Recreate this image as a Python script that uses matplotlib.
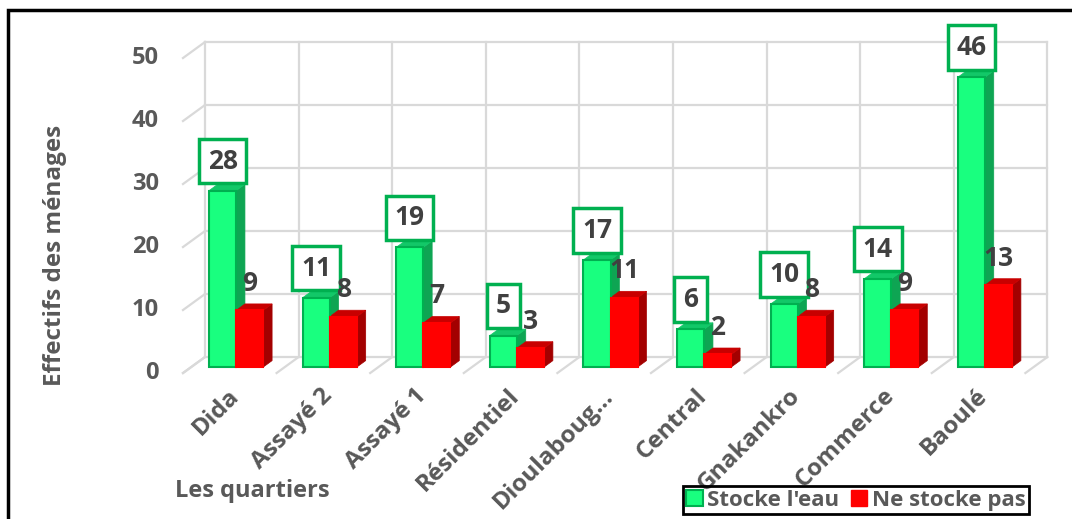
import numpy as np
import matplotlib
matplotlib.use("Agg")
import matplotlib.pyplot as plt
from matplotlib.patches import Polygon, Rectangle, Patch

plt.rcParams['font.family'] = ['Open Sans', 'DejaVu Sans']
plt.rcParams['font.weight'] = 'bold'

# données
quartiers = ["Dida", "Assayé 2", "Assayé 1", "Résidentiel", "Dioulaboug…",
             "Central", "Gnakankro", "Commerce", "Baoulé"]
stocke = [28, 11, 19, 5, 17, 6, 10, 14, 46]
ne_stocke = [9, 8, 7, 3, 11, 2, 8, 9, 13]
yticks = [0, 10, 20, 30, 40, 50]

gris = '#595959'
vert, vert_bord, vert_cote, vert_haut = '#19FF7F', '#00B050', '#0EA553', '#12C868'
rouge, rouge_cote, rouge_haut = '#FF0000', '#A30000', '#C80000'

fig = plt.figure(figsize=(10.72, 5.19), dpi=100)
ax = fig.add_axes([0, 0, 1, 1])
ax.set_xlim(-1.955, 9.498)
ax.set_ylim(-23.17, 59.21)
ax.axis('off')

# profondeur (pseudo 3D)
DX, DY = 0.235, 2.54
OX, OY = 0.088, 0.95          # plan avant des barres
BX, BY = 0.094, 1.02          # epaisseur des barres
n = len(quartiers)
grid_kw = dict(color='#D9D9D9', lw=1.6, zorder=1)

# mur du fond
for v in yticks:
    ax.plot([DX, n + DX], [v + DY, v + DY], **grid_kw)
    ax.plot([0, DX], [v, v + DY], **grid_kw)
for i in range(n + 1):
    ax.plot([i + DX, i + DX], [DY, yticks[-1] + DY], **grid_kw)
    ax.plot([i, i + DX], [0, DY], **grid_kw)

w = 0.29
def barre3d(x0, val, c, cside, ctop, edge):
    ax.bar(x0, val, width=w, bottom=OY, align='edge', color=c,
           edgecolor=edge, lw=1.5, zorder=3)
    x1 = x0 + w
    top = OY + val
    ax.add_patch(Polygon([(x1, OY), (x1 + BX, OY + BY), (x1 + BX, top + BY), (x1, top)],
                         closed=True, fc=cside, ec=cside, lw=0.5, zorder=2.5))
    ax.add_patch(Polygon([(x0, top), (x1, top), (x1 + BX, top + BY), (x0 + BX, top + BY)],
                         closed=True, fc=ctop, ec=ctop, lw=0.5, zorder=2.5))

for i in range(n):
    xg = i + 0.19 + OX
    xr = xg + w
    barre3d(xg, stocke[i], vert, vert_cote, vert_haut, vert_bord)
    barre3d(xr, ne_stocke[i], rouge, rouge_cote, rouge_haut, rouge)
    ax.text(xg + w / 2, stocke[i] + OY + 4.7, str(stocke[i]), ha='center', va='center',
            fontsize=19, color='#404040', zorder=6,
            bbox=dict(boxstyle='square,pad=0.33', fc='white', ec=vert_bord, lw=2.5))
    ax.text(xr + w / 2, ne_stocke[i] + OY + 4.3, str(ne_stocke[i]), ha='center',
            va='center', fontsize=19, color='#404040', zorder=6)
    ax.text(i + 0.56, -3.1, quartiers[i], rotation=45, rotation_mode='anchor',
            ha='right', va='center', fontsize=17.5, color=gris, zorder=7)

for v in yticks:
    ax.text(-0.256, v, str(v), ha='right', va='center', fontsize=17, color=gris)

ax.text(-1.368, 18.7, "Effectifs des ménages", rotation=90, ha='center', va='center',
        fontsize=17.5, color=gris)
ax.text(-0.085, -18.7, "Les quartiers", ha='left', va='center', fontsize=17, color=gris)

handles = [Patch(fc=vert, ec=vert_bord, lw=1.5, label="Stocke l'eau"),
           Patch(fc=rouge, ec=rouge, label="Ne stocke pas")]
leg = fig.legend(handles=handles, loc='lower left', ncol=2,
                 bbox_to_anchor=(683 / 1072, 1 - 514 / 519), fontsize=16,
                 frameon=True, fancybox=False, edgecolor='black', facecolor='none',
                 handlelength=0.75, handleheight=0.75, handletextpad=0.2,
                 columnspacing=0.5, borderpad=0.15, borderaxespad=0)
leg.get_frame().set_linewidth(2)
leg.get_frame().set_alpha(None)
for t in leg.get_texts():
    t.set_color(gris)

fig.patches.append(Rectangle((8 / 1072, -0.1), 1.1, 1.1 - 10 / 519, fill=False,
                             ec='black', lw=2.5, transform=fig.transFigure))

fig.savefig("out.png", dpi=100)
